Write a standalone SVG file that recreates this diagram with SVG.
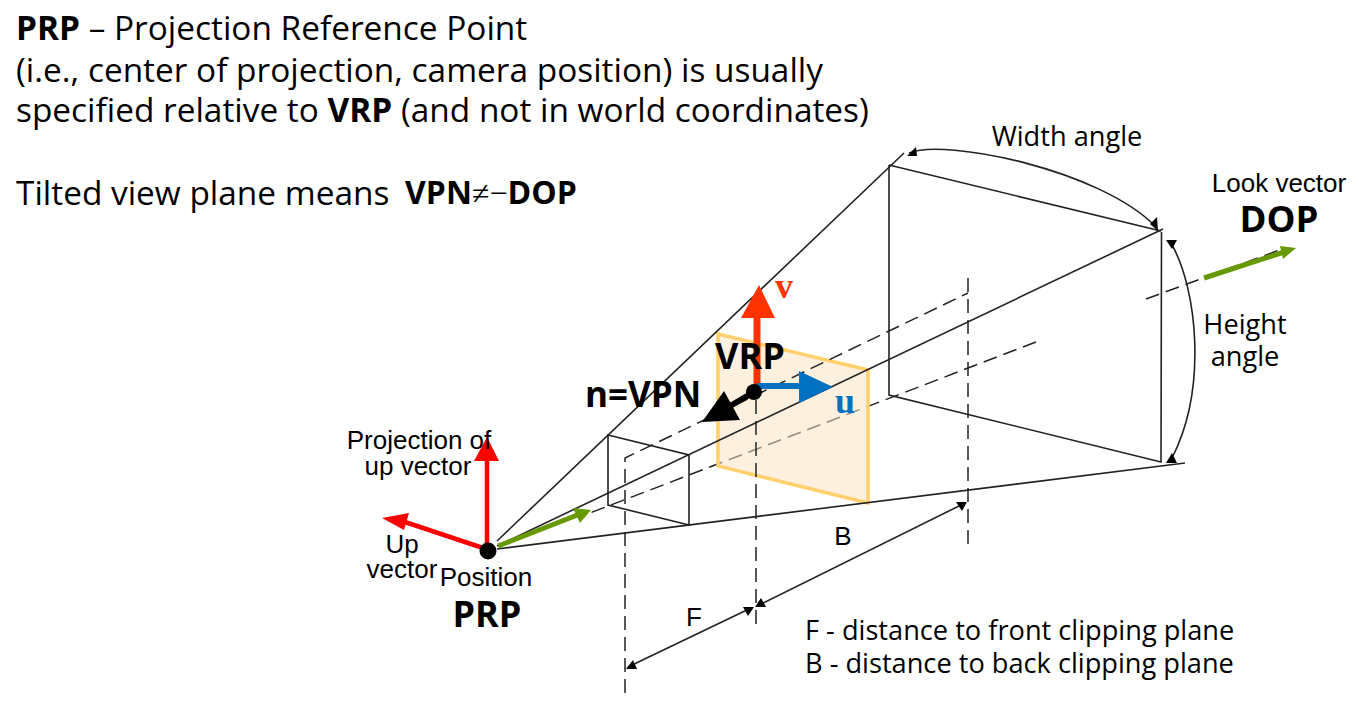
<svg xmlns="http://www.w3.org/2000/svg" width="1359" height="706" viewBox="0 0 1359 706">
<style>
.s{font-family:"Open Sans","Noto Sans",sans-serif;fill:#000}
.h{font-size:33.400px}
.m{font-size:27.200px}
.a{font-family:"Liberation Sans",Arial,sans-serif;font-size:26px;fill:#000}
.b{font-family:"Open Sans","Noto Sans",sans-serif;font-weight:700;fill:#000}
.t{font-family:"Liberation Serif","Times New Roman",serif;font-weight:700;font-size:36px}
.l{fill:none;stroke:#222;stroke-width:1.6}
.d{fill:none;stroke:#222;stroke-width:1.5;stroke-dasharray:14 7}
.g{fill:none;stroke:#669900;stroke-width:5}
</style>
<rect width="1359" height="706" fill="#fff"/>
<g id="header-text">
<text class="s h" x="16" y="40"><tspan font-weight="700">PRP</tspan> – Projection Reference Point</text>
<text class="s h" x="16" y="82">(i.e., center of projection, camera position) is usually</text>
<text class="s h" x="16" y="122">specified relative to <tspan font-weight="700">VRP</tspan> (and not in world coordinates)</text>
<text class="s h" x="16" y="205">Tilted view plane means</text>
<text class="b" x="405" y="204" font-size="32">VPN<tspan font-family="Liberation Serif,serif" font-weight="400">≠−</tspan>DOP</text>
</g>
<g id="connectors">
<path class="d" d="M1036,342 L590,513"/>
<g id="view-plane"><polygon points="718,334 868,370 868,503 718,466" fill="#fbe3c4" fill-opacity=".55" stroke="#ffd06e" stroke-width="3.500"/></g>
<path class="l" d="M497,541 L904,153"/>
<path class="l" d="M497,546 L1163,229"/>
<path class="l" d="M497,549 L1185,463"/>
<path class="l" d="M608,435 L689,455 L689,525 L608,505 Z"/>
<path class="l" d="M889,165 L1161,231 M889,165 L889,395 L1161,462 L1161.500,232"/>
<path class="d" d="M625,693 L625,458 L968,293"/>
<path class="d" d="M968,278 L968,546"/>
<path class="d" d="M756,400 L756,628"/>
<path class="d" d="M1146,299 L1285,248"/>
<path class="l" d="M909,153 C945,138 1100,170 1155,226"/>
<polygon points="907,156 916,147 917,156" fill="#000"/>
<polygon points="1158,231 1150,224 1157,217" fill="#000"/>
<path class="l" d="M1171,243 C1198,290 1207,390 1172,458"/>
<polygon points="1166,240 1177,240 1172,249" fill="#000"/>
<polygon points="1166,463 1177,463 1172,453" fill="#000"/>
<path class="l" d="M628,667 L751,608"/>
<polygon points="626,669 633,660 637,669" fill="#000"/>
<polygon points="743,607 754,607 748,616" fill="#000"/>
<path class="l" d="M757,606 L965,503"/>
<polygon points="755,607 761,598 766,607" fill="#000"/>
<polygon points="956,502 967,502 962,511" fill="#000"/>
<path class="g" d="M498,546 L580,514"/>
<polygon points="573,508 591,510 580,523" fill="#669900"/>
<path class="g" d="M1204,278 L1284,252"/>
<polygon points="1280,246 1296,248 1283,259" fill="#669900"/>
<path d="M487,545 L487,460" fill="none" stroke="#ff0000" stroke-width="4.500"/>
<polygon points="487,437 474,461 499,461" fill="#ff0000"/>
<path d="M483,548 L405,522" fill="none" stroke="#ff0000" stroke-width="4.500"/>
<polygon points="382,518 409,513 404,530" fill="#ff0000"/>
<path d="M757,385 L757,318" fill="none" stroke="#ff3300" stroke-width="7"/>
<polygon points="759,285 741,318 775,318" fill="#ff3300"/>
<path d="M757,386 L800,386" fill="none" stroke="#0070c0" stroke-width="6"/>
<polygon points="799,371 833,387 799,403" fill="#0070c0"/>
<path d="M754,392 L725,409" fill="none" stroke="#000" stroke-width="6"/>
<polygon points="702,422 724,391 740,420" fill="#000"/>
</g>
<g id="prp-node"><circle cx="488" cy="551" r="8.500" fill="#000"/>
<text class="a" x="486" y="586" text-anchor="middle">Position</text>
<text class="b" x="487" y="627" font-size="36" text-anchor="middle">PRP</text></g>
<g id="vrp-node"><circle cx="754" cy="392" r="8" fill="#000"/>
<text class="b" x="750" y="369" font-size="36" text-anchor="middle">VRP</text></g>
<g id="labels">
<text class="a" x="419" y="449" text-anchor="middle">Projection of</text>
<text class="a" x="418" y="475" text-anchor="middle">up vector</text>
<text class="a" x="402" y="553" text-anchor="middle">Up</text>
<text class="a" x="402" y="578" text-anchor="middle">vector</text>
<text class="b" x="643" y="407" font-size="35" text-anchor="middle">n=VPN</text>
<text class="t" x="784" y="298" text-anchor="middle" fill="#ff3300">v</text>
<text class="t" x="845" y="413" text-anchor="middle" fill="#0070c0">u</text>
<text class="s m" x="1067" y="146" text-anchor="middle">Width angle</text>
<text class="a" x="1279" y="192" text-anchor="middle">Look vector</text>
<text class="b" x="1279" y="232" font-size="36.500" text-anchor="middle">DOP</text>
<text class="s m" x="1245" y="334" text-anchor="middle">Height</text>
<text class="s m" x="1245" y="366" text-anchor="middle">angle</text>
<text class="a" x="843" y="545" text-anchor="middle">B</text>
<text class="a" x="694" y="626" text-anchor="middle">F</text>
<text class="s m" x="805" y="640">F - distance to front clipping plane</text>
<text class="s m" x="805" y="673">B - distance to back clipping plane</text>
</g>
</svg>
